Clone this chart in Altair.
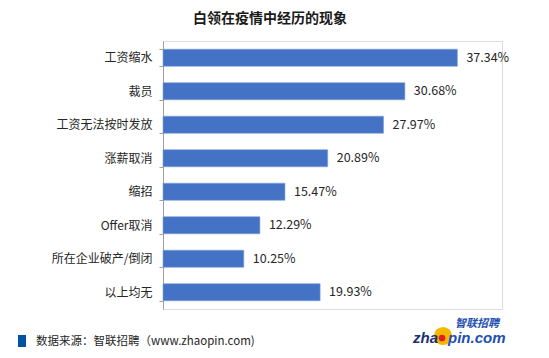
import altair as alt
import pandas as pd

categories = ["工资缩水", "裁员", "工资无法按时发放", "涨薪取消", "缩招", "Offer取消", "所在企业破产/倒闭", "以上均无"]
values = [37.34, 30.68, 27.97, 20.89, 15.47, 12.29, 10.25, 19.93]
labels = [f"{v:.2f}%" for v in values]

df = pd.DataFrame({"cat": categories, "val": values, "label": labels})
FONT = "Noto Sans CJK SC"

y_enc = alt.Y("cat:N", sort=categories, title=None,
              scale=alt.Scale(paddingInner=0.49, paddingOuter=0.245),
              axis=alt.Axis(tickBand="extent", domainColor="#a0a0a0", tickColor="#a0a0a0",
                            tickSize=4, labelPadding=7, labelFontSize=12, labelFont=FONT,
                            labelColor="#262626", domainWidth=1))
x_enc = alt.X("val:Q", title=None, scale=alt.Scale(domain=[0, 43], nice=False), axis=None)

bars = alt.Chart(df).mark_bar(color="#4472C4", stroke="#7f9fd8", strokeWidth=0.6).encode(x=x_enc, y=y_enc)
text = alt.Chart(df).mark_text(align="left", baseline="middle", dx=9, fontSize=12.5, font=FONT,
                               color="#262626").encode(x=x_enc, y=alt.Y("cat:N", sort=categories), text="label:N")

one = pd.DataFrame({"a": [0]})
base = alt.Chart(one)
title = base.mark_text(text="白领在疫情中经历的现象", fontSize=14, fontWeight="bold", font=FONT,
                       color="#1a1a1a", align="center", baseline="middle").encode(x=alt.value(107), y=alt.value(-22))
square = base.mark_rect(color="#0052A5").encode(x=alt.value(-145), x2=alt.value(-137), y=alt.value(294), y2=alt.value(306))
src = base.mark_text(text="数据来源：智联招聘（www.zhaopin.com)", fontSize=11.5, font=FONT, color="#262626",
                     align="left", baseline="middle").encode(x=alt.value(-127), y=alt.value(301))
line = base.mark_rule(color="#1a1a1a", strokeWidth=1.2).encode(x=alt.value(-145), x2=alt.value(342), y=alt.value(312))
circle = base.mark_circle(color="#F5B800", opacity=1, size=330).encode(x=alt.value(280), y=alt.value(295))
dot = base.mark_circle(color="#E02020", opacity=1, size=45).encode(x=alt.value(279), y=alt.value(297))
logo_cn = base.mark_text(text="智联招聘", fontSize=11, font=FONT, fontWeight="bold", fontStyle="italic",
                         color="#1f4fb0", align="center", baseline="middle").encode(x=alt.value(314), y=alt.value(283))
zha = base.mark_text(text="zha", fontSize=15, font="Liberation Sans", fontWeight="bold", fontStyle="italic",
                     color="#1a2f7a", align="right", baseline="middle").encode(x=alt.value(275), y=alt.value(297))
pin = base.mark_text(text="pin.com", fontSize=15, font="Liberation Sans", fontWeight="bold", fontStyle="italic",
                     color="#1f4fb0", align="left", baseline="middle").encode(x=alt.value(285), y=alt.value(297))

chart = alt.layer(bars, text, title, square, src, line, circle, dot, logo_cn, zha, pin).properties(
    width=339, height=268,
    autosize=alt.AutoSizeParams(type="none"),
    padding={"left": 155, "top": 33, "right": 39, "bottom": 41},
).configure_view(stroke=None).configure(background="white")

chart.save("out.html", embed_options={"renderer": "svg", "actions": False})
